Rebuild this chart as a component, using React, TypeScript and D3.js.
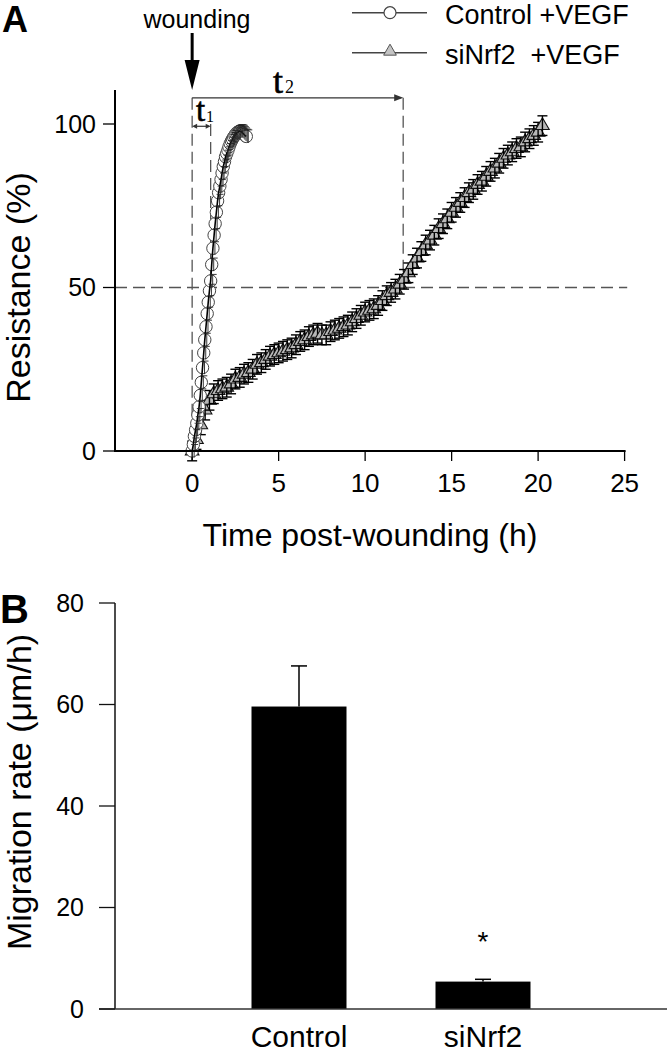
import React from 'react';
import * as d3 from 'd3';

// ---------- Panel A data ----------
const ctrlTime = [0, 0.07, 0.13, 0.2, 0.27, 0.33, 0.4, 0.47, 0.53, 0.6, 0.67, 0.73, 0.8, 0.87, 0.93, 1.0,
  1.07, 1.13, 1.2, 1.27, 1.33, 1.4, 1.47, 1.53, 1.6, 1.67, 1.73, 1.8, 1.87, 1.93, 2.0, 2.07, 2.13, 2.2,
  2.27, 2.33, 2.4, 2.47, 2.53, 2.6, 2.67, 2.73, 2.8, 2.87, 2.93, 3.0, 3.07, 3.13];
const ctrlRes = [0, 2, 4.5, 6.5, 8.5, 11, 13.5, 17, 21, 25.5, 30, 34, 38, 42, 45.5, 49,
  52, 57, 62, 66, 69.5, 73, 76.5, 79, 81, 83, 85, 87, 88.5, 90, 91, 92, 93, 94,
  94.8, 95.4, 96, 96.5, 97, 97.4, 97.6, 97.8, 97.8, 97.6, 97.2, 96.8, 96.4, 96.2];

const siTime = [0, 0.25, 0.5, 0.75, 1, 1.25, 1.5, 1.75, 2, 2.25, 2.5, 2.75, 3, 3.25, 3.5, 3.75, 4, 4.25,
  4.5, 4.75, 5, 5.25, 5.5, 5.75, 6, 6.25, 6.5, 6.75, 7, 7.25, 7.5, 7.75, 8, 8.25, 8.5, 8.75, 9, 9.25,
  9.5, 9.75, 10, 10.25, 10.5, 10.75, 11, 11.25, 11.5, 11.75, 12, 12.25, 12.5, 12.75, 13, 13.25, 13.5,
  13.75, 14, 14.25, 14.5, 14.75, 15, 15.25, 15.5, 15.75, 16, 16.25, 16.5, 16.75, 17, 17.25, 17.5,
  17.75, 18, 18.25, 18.5, 18.75, 19, 19.25, 19.5, 19.75, 20, 20.25];
const siRes = [0, 3.5, 8, 12.5, 15.5, 17.5, 18.5, 19, 19.5, 20.5, 22, 22.5, 23.5, 24, 25, 26.5, 27, 28,
  29, 29.5, 30, 30.5, 31, 31.5, 32.5, 33.5, 34, 35, 35.5, 36, 35.5, 35.5, 36.5, 37, 37.5, 38, 38.5, 39.5,
  40.5, 41.5, 42.5, 43, 43.5, 44.5, 46, 47.5, 48.5, 49.5, 51, 52.5, 54.5, 57, 59, 61, 63,
  64.5, 66, 68, 69.5, 71, 73, 74.5, 76, 77.5, 79, 80, 81.5, 82.5, 84, 85.5, 86.5,
  88, 89.5, 90.5, 91.5, 92.5, 93, 94.5, 95.5, 96.5, 97.5, 99.5];

const CTRL_ERR = 2;
const SI_ERR = 3;

const xTicksA = [0, 5, 10, 15, 20, 25];
const yTicksA = [0, 50, 100];
const t1Value = 1.07;
const t2Value = 12.2;
const halfLevel = 50;
const legendLabels = ['Control +VEGF', 'siNrf2  +VEGF'];

// ---------- Panel B data ----------
const barCategories = ['Control', 'siNrf2'];
const barValues = [59.6, 5.4];
const barErrors = [8.0, 0.45];
const yTicksB = [0, 20, 40, 60, 80];

const SANS = '"Liberation Sans", Arial, Helvetica, sans-serif';
const SERIF = '"Liberation Serif", "Times New Roman", serif';

export default function App() {
  // Panel A scales
  const xA = d3.scaleLinear().domain([-4.46, 25]).range([115, 624.6]);
  const yA = d3.scaleLinear().domain([0, 100]).range([451, 124]);
  const ctrlPts = ctrlTime.map((t, i) => [xA(t), yA(ctrlRes[i])] as [number, number]);
  const siPts = siTime.map((t, i) => [xA(t), yA(siRes[i])] as [number, number]);
  const line = d3.line();
  const tri = d3.symbol().type(d3.symbolTriangle).size(80)();
  const triLegend = d3.symbol().type(d3.symbolTriangle).size(70)();

  // Panel B scales
  const xB = d3.scalePoint().domain(barCategories).range([115, 667]).padding(1);
  const yB = d3.scaleLinear().domain([0, 80]).range([1009, 603]);
  const barW = 95;

  const dash = '12,6';
  const y108 = yA(108);

  return (
    <svg width={670} height={1056} style={{ position: 'absolute', left: 0, top: 0, background: '#fff' }}
      fontFamily={SANS}>
      <rect x={0} y={0} width={670} height={1056} fill="#fff" />
      {/* ===== Panel A ===== */}
      <text x={2} y={32} fontSize={36} fontWeight="bold">A</text>

      {/* wounding arrow */}
      <text x={197} y={28} fontSize={25} textAnchor="middle">wounding</text>
      <line x1={xA(0)} x2={xA(0)} y1={33} y2={62} stroke="#000" strokeWidth={3} />
      <path d={`M${xA(0) - 7.5},60 L${xA(0) + 7.5},60 L${xA(0)},90 Z`} fill="#000" />

      {/* legend */}
      <g stroke="#444" strokeWidth={1.4}>
        <line x1={352} x2={427} y1={12.7} y2={12.7} />
        <line x1={352} x2={427} y1={52.7} y2={52.7} />
      </g>
      <circle cx={390} cy={12.7} r={6} fill="#fff" stroke="#444" strokeWidth={1.2} />
      <path d={triLegend} transform={`translate(390,51.5)`} fill="#c4c4c4" stroke="#555" strokeWidth={1} />
      <text x={445} y={24} fontSize={27}>{legendLabels[0]}</text>
      <text x={445} y={63.5} fontSize={27} style={{ whiteSpace: 'pre' }}>{legendLabels[1]}</text>

      {/* dashed guides */}
      <g stroke="#555" strokeWidth={1.3} strokeDasharray={dash} fill="none">
        <line x1={115} x2={xA(25.15)} y1={yA(halfLevel)} y2={yA(halfLevel)} />
        <line x1={xA(0)} x2={xA(0)} y1={y108} y2={yA(0)} />
        <line x1={xA(t1Value)} x2={xA(t1Value)} y1={yA(100)} y2={yA(halfLevel)} />
        <line x1={xA(t2Value)} x2={xA(t2Value)} y1={y108} y2={yA(halfLevel)} />
      </g>

      {/* t2 arrow */}
      <line x1={xA(0)} x2={xA(t2Value) - 2} y1={y108} y2={y108} stroke="#333" strokeWidth={1.3} />
      <path d={`M${xA(t2Value)},${y108} l-9,-3.5 l0,7 Z`} fill="#333" />
      <text x={273} y={93} fontSize={36} fontFamily={SERIF} stroke="#000" strokeWidth={0.6}>t</text>
      <text x={285} y={93} fontSize={18} fontFamily={SERIF}>2</text>

      {/* t1 arrow */}
      <line x1={xA(0) + 2} x2={xA(t1Value) - 2} y1={yA(99.3)} y2={yA(99.3)} stroke="#333" strokeWidth={1.2} />
      <path d={`M${xA(0)},${yA(99.3)} l5,-2.5 l0,5 Z`} fill="#333" />
      <path d={`M${xA(t1Value)},${yA(99.3)} l-5,-2.5 l0,5 Z`} fill="#333" />
      <text x={196} y={121} fontSize={33} fontFamily={SERIF} stroke="#000" strokeWidth={0.6}>t</text>
      <text x={206} y={122} fontSize={16} fontFamily={SERIF}>1</text>

      {/* siNrf2 series */}
      <g>
        <path d={line(siPts) || ''} fill="none" stroke="#000" strokeWidth={2} />
        {siPts.map(([x, y], i) => (
          <g key={'s' + i}>
            <path d={tri} transform={`translate(${x},${y})`} fill="#b8b8b8" stroke="#111" strokeWidth={1.1} />
            <line x1={x} x2={x} y1={yA(siRes[i] - SI_ERR)} y2={yA(siRes[i] + SI_ERR)} stroke="#000" strokeWidth={1.4} />
            <line x1={x - 5} x2={x + 5} y1={yA(siRes[i] + SI_ERR)} y2={yA(siRes[i] + SI_ERR)} stroke="#000" strokeWidth={1.4} />
            <line x1={x - 5} x2={x + 5} y1={yA(siRes[i] - SI_ERR)} y2={yA(siRes[i] - SI_ERR)} stroke="#000" strokeWidth={1.4} />
          </g>
        ))}
      </g>

      {/* control series */}
      <g>
        {ctrlPts.map(([x, y], i) => (
          <circle key={'c' + i} cx={x} cy={y} r={6.2} fill="#fff" stroke="#444" strokeWidth={1} />
        ))}
        <path d={line(ctrlPts) || ''} fill="none" stroke="#000" strokeWidth={1.6} />
        {ctrlPts.map(([x, y], i) => (
          <g key={'ce' + i} stroke="#222" strokeWidth={0.9}>
            <line x1={x + 2} x2={x + 2} y1={yA(ctrlRes[i] - CTRL_ERR)} y2={yA(ctrlRes[i] + CTRL_ERR)} />
            <line x1={x - 1} x2={x + 6} y1={yA(ctrlRes[i] + CTRL_ERR)} y2={yA(ctrlRes[i] + CTRL_ERR)} />
          </g>
        ))}
      </g>

      {/* axes A */}
      <line x1={115} x2={115} y1={90} y2={yA(0)} stroke="#000" strokeWidth={2} />
      <line x1={114} x2={xA(25) + 1} y1={yA(0)} y2={yA(0)} stroke="#000" strokeWidth={2.2} />
      {yTicksA.map((v) => (
        <g key={'ya' + v}>
          <line x1={103} x2={115} y1={yA(v)} y2={yA(v)} stroke="#000" strokeWidth={1.3} />
          <text x={96} y={yA(v)} dy="0.35em" fontSize={25} textAnchor="end">{v}</text>
        </g>
      ))}
      {xTicksA.map((v) => (
        <g key={'xa' + v}>
          <line x1={xA(v)} x2={xA(v)} y1={yA(0)} y2={yA(0) + 10} stroke="#000" strokeWidth={1.3} />
          <text x={xA(v)} y={492} fontSize={26} textAnchor="middle">{v}</text>
        </g>
      ))}
      <text x={370} y={546} fontSize={32} textAnchor="middle">Time post-wounding (h)</text>
      <text transform={`translate(30,${yA(50)}) rotate(-90)`} fontSize={34} textAnchor="middle">Resistance (%)</text>

      {/* ===== Panel B ===== */}
      <text x={0} y={623} fontSize={40} fontWeight="bold">B</text>
      {barCategories.map((c, i) => {
        const cx = xB(c) as number;
        const top = yB(barValues[i]);
        const errTop = yB(barValues[i] + barErrors[i]);
        return (
          <g key={'b' + c}>
            <line x1={cx} x2={cx} y1={top} y2={errTop} stroke="#000" strokeWidth={1.5} />
            <line x1={cx - 8} x2={cx + 8} y1={errTop} y2={errTop} stroke="#000" strokeWidth={1.5} />
            <rect x={cx - barW / 2} y={top} width={barW} height={yB(0) - top} fill="#000" />
            <text x={cx} y={1047} fontSize={30} textAnchor="middle">{c}</text>
          </g>
        );
      })}
      <text x={xB('siNrf2') as number} y={951} fontSize={28} textAnchor="middle">*</text>
      <line x1={115} x2={115} y1={yB(80)} y2={yB(0)} stroke="#111" strokeWidth={1.5} />
      <line x1={99} x2={667} y1={yB(0)} y2={yB(0)} stroke="#333" strokeWidth={1.5} />
      {yTicksB.map((v) => (
        <g key={'yb' + v}>
          <line x1={99} x2={115} y1={yB(v)} y2={yB(v)} stroke="#111" strokeWidth={1.3} />
          <text x={84} y={yB(v)} dy="0.35em" fontSize={25} textAnchor="end">{v}</text>
        </g>
      ))}
      <text transform={`translate(31,${(yB(0) + yB(80)) / 2 - 14}) rotate(-90)`} fontSize={34} textAnchor="middle">
        Migration rate (μm/h)
      </text>
    </svg>
  );
}
